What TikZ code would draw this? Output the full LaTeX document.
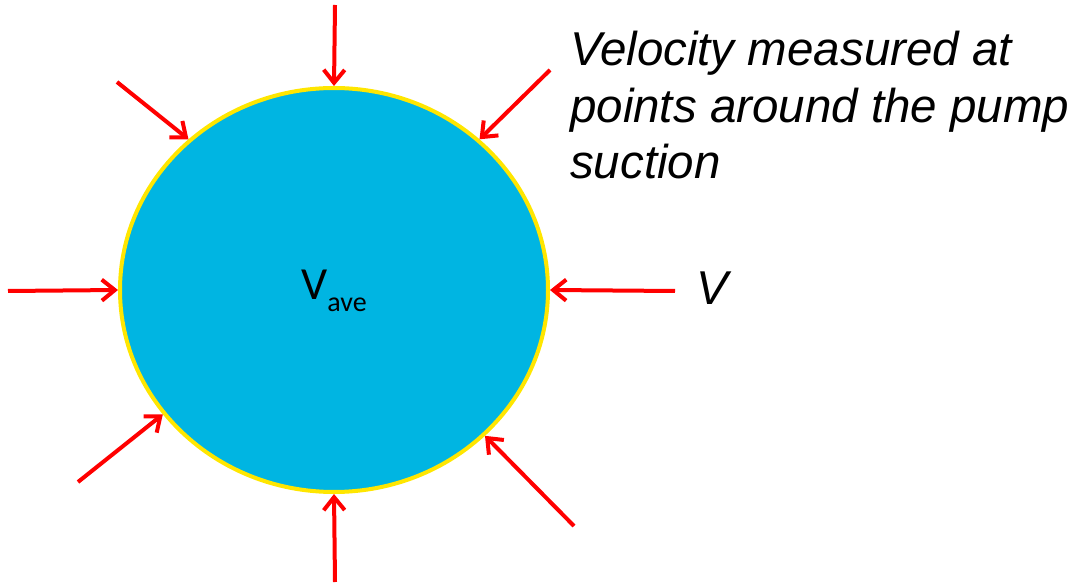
\documentclass[tikz,border=0pt]{standalone}
\usepackage{fontspec}
\setmainfont{Liberation Sans}
\newfontfamily\calibri{Carlito}
\usetikzlibrary{arrows.meta,shapes.geometric}
\definecolor{PipeClr}{RGB}{0,181,226}
\definecolor{RimClr}{RGB}{255,230,0}
\definecolor{ArrowClr}{RGB}{255,0,0}

\begin{document}
\begin{tikzpicture}[x=1pt,y=-1pt,
  velarrow/.style={draw=ArrowClr,line width=4pt,-{Straight Barb[length=13pt,width=21pt]}},
  note/.style={font=\fontsize{47.5}{56.5}\selectfont\itshape,inner sep=0pt}]
\useasboundingbox (0,0) rectangle (1079,585);

% pump suction
\node[ellipse,draw=RimClr,fill=PipeClr,line width=4pt,
  minimum width=428pt,minimum height=404pt,inner sep=0pt] (pipe) at (334,290) {};
\node[anchor=base,inner sep=0pt,font=\calibri\fontsize{46}{50}\selectfont] (vave) at (334,300)
  {V\raisebox{-12pt}{\fontsize{28}{30}\selectfont ave}};

% tails of the velocity arrows
\coordinate (tN) at (335,5);
\coordinate (tNW) at (117,82);
\coordinate (tNE) at (550,70);
\coordinate (tW) at (8,291);
\coordinate (tE) at (675,291);
\coordinate (tSW) at (78,482);
\coordinate (tSE) at (574,526);
\coordinate (tS) at (335,582);

\draw[velarrow] (tN) -- (pipe.north);
\draw[velarrow] (tNW) -- (pipe.134);
\draw[velarrow] (tNE) -- (pipe.46);
\draw[velarrow] (tW) -- (pipe.west);
\draw[velarrow] (tE) -- (pipe.east);
\draw[velarrow] (tSW) -- (pipe.216);
\draw[velarrow] (tSE) -- (pipe.316);
\draw[velarrow] (tS) -- (pipe.south);

% labels
\node[note,anchor=base west] (vlabel) at (696,305) {V};
\node[note,anchor=base west,align=left] (caption) at (570,179)
  {Velocity measured at\\points around the pump\\suction};
\end{tikzpicture}
\end{document}
